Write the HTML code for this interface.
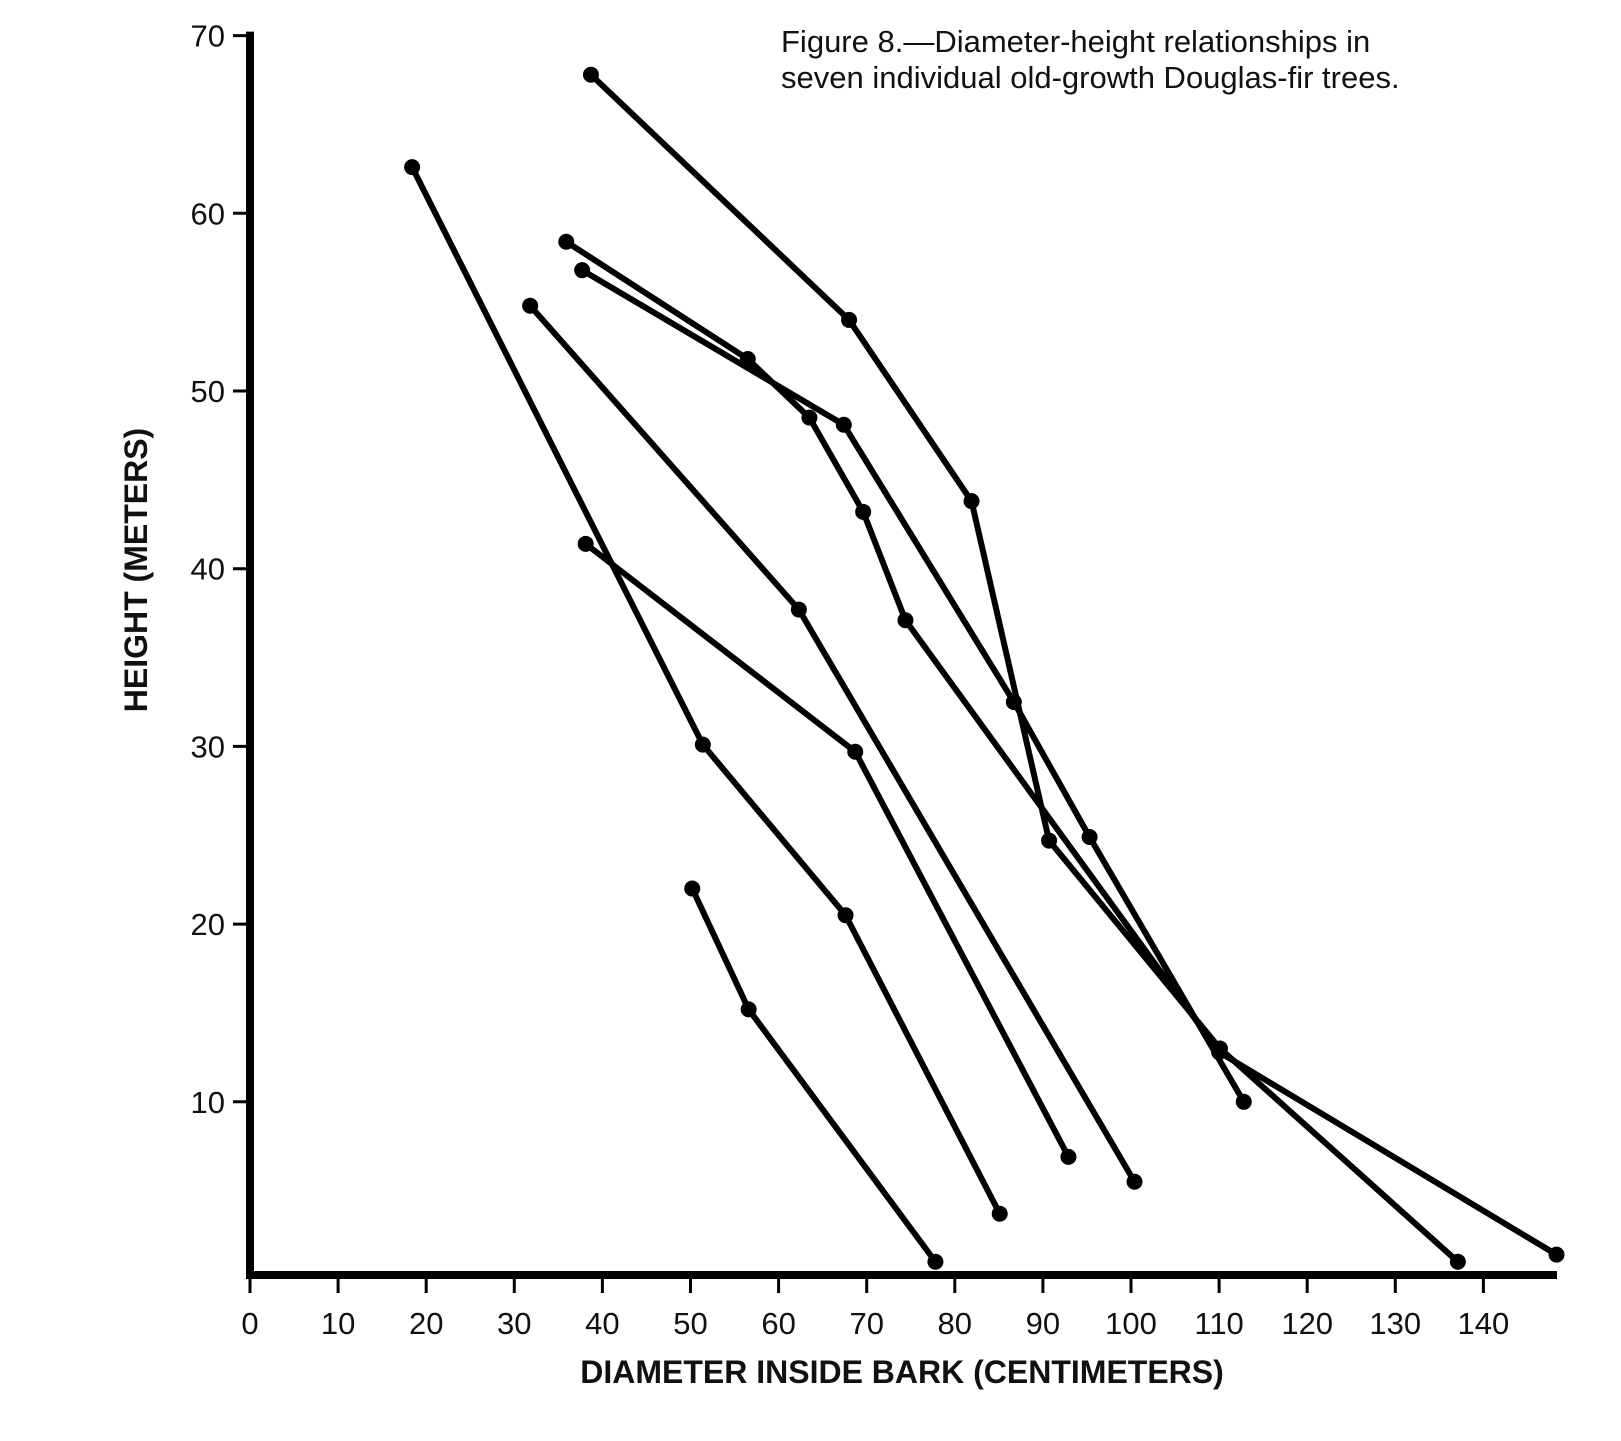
<!DOCTYPE html>
<html><head><meta charset="utf-8"><style>
html,body{margin:0;padding:0;background:#fff;}
svg{display:block;font-family:"Liberation Sans",sans-serif;}
</style></head><body>
<svg id="chart" width="1621" height="1441" viewBox="0 0 1621 1441" xmlns="http://www.w3.org/2000/svg">
<text x="781" y="52" font-size="31" fill="#111">Figure 8.—Diameter-height relationships in</text>
<text x="781" y="88" font-size="31" fill="#111">seven individual old-growth Douglas-fir trees.</text>
<text transform="translate(147,570) rotate(-90)" text-anchor="middle" font-size="32" font-weight="bold" fill="#111">HEIGHT (METERS)</text>
<text x="902" y="1383" text-anchor="middle" font-size="32" font-weight="bold" fill="#111">DIAMETER INSIDE BARK (CENTIMETERS)</text>
<g id="axes"></g>
<g id="series"></g>
</svg>
<script>
const xTicks = [0,10,20,30,40,50,60,70,80,90,100,110,120,130,140];
const yTicks = [10,20,30,40,50,60,70];
const tree1X = [38.7,68.0,81.9,90.7,110.1,137.1];
const tree1Y = [67.8,54.0,43.8,24.7,13.0,1.0];
const tree2X = [18.4,51.4,67.6,85.1];
const tree2Y = [62.6,30.1,20.5,3.7];
const tree3X = [35.9,56.5,63.5,69.6,74.4,110.0,148.3];
const tree3Y = [58.4,51.8,48.5,43.2,37.1,12.8,1.4];
const tree4X = [37.7,67.4,86.7,95.3,112.8];
const tree4Y = [56.8,48.1,32.5,24.9,10.0];
const tree5X = [31.8,62.3,100.4];
const tree5Y = [54.8,37.7,5.5];
const tree6X = [38.1,68.7,92.9];
const tree6Y = [41.4,29.7,6.9];
const tree7X = [50.2,56.6,77.8];
const tree7Y = [22.0,15.2,1.0];
const seriesX = [tree1X,tree2X,tree3X,tree4X,tree5X,tree6X,tree7X];
const seriesY = [tree1Y,tree2Y,tree3Y,tree4Y,tree5Y,tree6Y,tree7Y];

const X0 = 250, XS = 8.81, Y0 = 1279.5, YS = 17.77;
function xs(v){ return X0 + XS*v; }
function ys(v){ return Y0 - YS*v; }
const NS = "http://www.w3.org/2000/svg";
function mk(tag, attrs, parent){
  const e = document.createElementNS(NS, tag);
  for (const k in attrs) e.setAttribute(k, attrs[k]);
  parent.appendChild(e);
  return e;
}
const axes = document.getElementById('axes');
const yAxis = mk('line', {x1:xs(0), y1:ys(70)-4, x2:xs(0), y2:1279, stroke:'#000', 'stroke-width':8}, axes);


const xAxis = mk('line', {x1:xs(0)-4, y1:1275, x2:1557, y2:1275, stroke:'#000', 'stroke-width':8}, axes);


xTicks.forEach(function(t){
  const tk = mk('line', {x1:xs(t), y1:1278, x2:xs(t), y2:1293, stroke:'#000', 'stroke-width':3}, axes);
  
  
  const lb = mk('text', {x:xs(t), y:1334, 'text-anchor':'middle', 'font-size':31, fill:'#111'}, axes);
  lb.textContent = t;
  
  
});
yTicks.forEach(function(t){
  const tk = mk('line', {x1:xs(0)-17, y1:ys(t), x2:xs(0), y2:ys(t), stroke:'#000', 'stroke-width':3}, axes);
  
  
  const lb = mk('text', {x:225, y:ys(t)+11, 'text-anchor':'end', 'font-size':31, fill:'#111'}, axes);
  lb.textContent = t;
  
  
});
const series = document.getElementById('series');
seriesX.forEach(function(xa, i){
  const ya = seriesY[i];
  const g = mk('g', {}, series);
  
  
  const pts = xa.map(function(x, j){ return xs(x) + ',' + ys(ya[j]); }).join(' ');
  const pl = mk('polyline', {points:pts, fill:'none', stroke:'#000', 'stroke-width':6, 'stroke-linejoin':'round'}, g);
  
  
  xa.forEach(function(x, j){
    const c = mk('circle', {cx:xs(x), cy:ys(ya[j]), r:8, fill:'#000'}, g);
    
    
  });
});
</script>
</body></html>
